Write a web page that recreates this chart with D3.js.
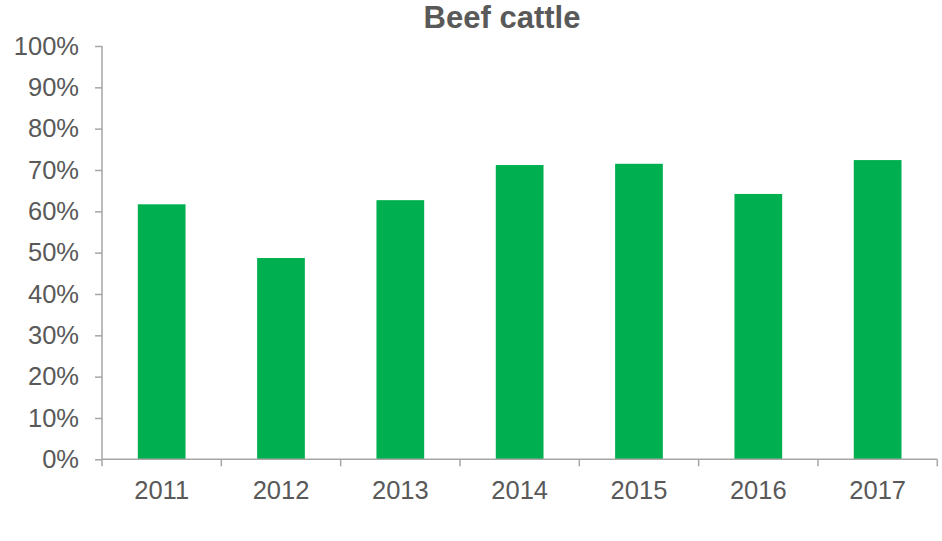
<!DOCTYPE html>
<html>
<head>
<meta charset="utf-8">
<script src="https://cdn.jsdelivr.net/npm/d3@7"></script>
<style>
  html, body { margin: 0; padding: 0; background: #fff; }
  svg { display: block; }
  text { font-family: "Liberation Sans", Arial, sans-serif; fill: #595959; }
</style>
</head>
<body>
<svg id="chart" width="942" height="541"></svg>
<script>
// Share of beef cattle, by year
const years = ["2011", "2012", "2013", "2014", "2015", "2016", "2017"];
const shares = [0.617, 0.487, 0.627, 0.712, 0.715, 0.642, 0.724];
const yTicks = [0, 0.1, 0.2, 0.3, 0.4, 0.5, 0.6, 0.7, 0.8, 0.9, 1.0];
const title = "Beef cattle";

const svg = d3.select("#chart");
const plotLeft = 102, plotRight = 937.3, plotTop = 46, plotBottom = 459.3;
const axisColor = "#a6a6a6";

const x = d3.scaleBand()
  .domain(years)
  .range([plotLeft, plotRight])
  .paddingInner(0.6)
  .paddingOuter(0.3);

const xCat = d3.scaleBand().domain(years).range([plotLeft, plotRight]).padding(0);

const y = d3.scaleLinear().domain([0, 1]).range([plotBottom, plotTop]);

// bars
svg.append("g")
  .selectAll("rect")
  .data(years.map((yr, i) => ({ yr, v: shares[i] })))
  .join("rect")
  .attr("x", d => x(d.yr))
  .attr("width", x.bandwidth())
  .attr("y", d => y(d.v))
  .attr("height", d => y(0) - y(d.v))
  .attr("fill", "#00b050");

// y axis
const yAxis = svg.append("g")
  .attr("transform", `translate(${plotLeft},0)`)
  .call(d3.axisLeft(y).tickValues(yTicks).tickFormat(d3.format(".0%")).tickSize(7).tickPadding(16));
yAxis.select(".domain").attr("stroke", axisColor).attr("stroke-width", 1.5).attr("d", `M0,${plotTop}V${plotBottom}`);
yAxis.selectAll(".tick line").attr("stroke", axisColor).attr("stroke-width", 1.5);
yAxis.selectAll(".tick text")
  .attr("font-size", 25.5)
  .attr("fill", "#595959")
  .attr("font-family", "Liberation Sans, Arial, sans-serif");

// x axis: line with ticks at category boundaries
const xAxis = svg.append("g");
xAxis.append("line")
  .attr("x1", plotLeft).attr("x2", plotRight)
  .attr("y1", plotBottom).attr("y2", plotBottom)
  .attr("stroke", axisColor).attr("stroke-width", 1.5);
const bounds = years.map(d => xCat(d)).concat([xCat(years[years.length - 1]) + xCat.bandwidth()]);
xAxis.selectAll("line.tk")
  .data(bounds)
  .join("line")
  .attr("class", "tk")
  .attr("x1", d => d).attr("x2", d => d)
  .attr("y1", plotBottom).attr("y2", plotBottom + 7)
  .attr("stroke", axisColor).attr("stroke-width", 1.5);
xAxis.selectAll("text")
  .data(years)
  .join("text")
  .attr("x", d => xCat(d) + xCat.bandwidth() / 2)
  .attr("y", 499)
  .attr("text-anchor", "middle")
  .attr("font-size", 25.5)
  .text(d => d);

// title
svg.append("text")
  .attr("x", 502)
  .attr("y", 28)
  .attr("text-anchor", "middle")
  .attr("font-size", 31)
  .attr("font-weight", "bold")
  .text(title);
</script>
</body>
</html>
